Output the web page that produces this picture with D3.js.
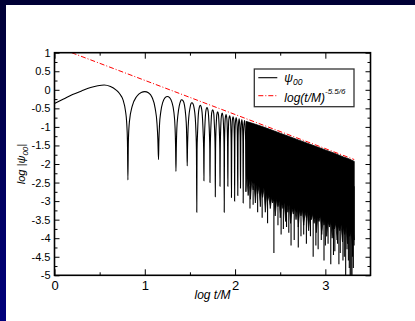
<!DOCTYPE html>
<html>
<head>
<meta charset="utf-8">
<script src="https://cdn.jsdelivr.net/npm/d3@7"></script>
<style>
  html, body { margin: 0; padding: 0; background: #fff; }
  svg text { font-family: "Liberation Sans", Arial, sans-serif; fill: #000; }
</style>
</head>
<body>
<div id="chart"></div>
<script>
// axis ticks
const xMajor = [0, 1, 2, 3];
const xMinor = [0.5, 1.5, 2.5];
const yMajor = [1, 0.5, 0, -0.5, -1, -1.5, -2, -2.5, -3, -3.5, -4, -4.5, -5];
const yMinor = [0.75, 0.25, -0.25, -0.75, -1.25, -1.75, -2.25, -2.75, -3.25, -3.75, -4.25, -4.75];

// psi_00, resolved arches (log t/M, log|psi|)
const wave = [
  [0,-0.37],[0.1,-0.25],[0.2,-0.13],[0.3,-0.03],[0.4,0.06],[0.48,0.11],[0.55,0.13],[0.62,0.09],[0.68,0.0],[0.72,-0.1],[0.76,-0.28],[0.785,-0.55],[0.8,-0.9],[0.808,-1.4],[0.813,-2.43],
  [0.818,-1.4],[0.83,-0.85],[0.86,-0.45],[0.91,-0.18],[0.96,-0.07],[1.0,-0.05],[1.04,-0.08],[1.08,-0.2],[1.115,-0.5],[1.135,-0.9],[1.145,-1.35],[1.152,-1.88],
  [1.156,-1.4],[1.163,-0.95],[1.178,-0.58],[1.2,-0.33],[1.225,-0.21],[1.25,-0.18],[1.275,-0.21],[1.3,-0.33],[1.322,-0.6],[1.335,-1.0],[1.341,-1.5],[1.345,-2.2],
  [1.349,-1.6],[1.355,-1.05],[1.367,-0.68],[1.383,-0.42],[1.397,-0.3],[1.407,-0.27],[1.425,-0.3],[1.44,-0.42],[1.453,-0.68],[1.462,-1.05],[1.467,-1.6],[1.47,-2.05],
  [1.473,-1.6],[1.478,-1.15],[1.487,-0.75],[1.5,-0.5],[1.51,-0.38],[1.522,-0.35],[1.535,-0.38],[1.547,-0.5],[1.559,-0.75],[1.567,-1.15],[1.572,-1.6],[1.576,-3.3],
  [1.579,-1.6],[1.584,-1.2],[1.59,-0.8],[1.6,-0.52],[1.615,-0.42],[1.63,-0.52],[1.64,-0.8],[1.647,-1.2],[1.652,-1.6],[1.655,-2.45],
  [1.658,-1.6],[1.662,-1.2],[1.668,-0.85],[1.676,-0.58],[1.689,-0.48],[1.702,-0.58],[1.71,-0.85],[1.716,-1.2],[1.72,-1.6],[1.722,-2.5],
  [1.725,-1.6],[1.729,-1.2],[1.734,-0.9],[1.741,-0.62],[1.752,-0.54],[1.763,-0.62],[1.77,-0.9],[1.775,-1.2],[1.779,-1.6],[1.781,-2.88],
  [1.784,-1.6],[1.787,-1.2],[1.792,-0.9],[1.798,-0.67],[1.807,-0.59],[1.816,-0.67],[1.822,-0.9],[1.827,-1.2],[1.831,-1.6],[1.833,-2.6],
  [1.836,-1.6],[1.839,-1.2],[1.843,-0.9],[1.849,-0.7],[1.857,-0.63],[1.865,-0.7],[1.871,-0.9],[1.875,-1.2],[1.878,-1.6],[1.88,-3.3],
  [1.883,-1.5],[1.886,-1.1],[1.891,-0.78],[1.9,-0.67],[1.909,-0.78],[1.914,-1.1],[1.917,-1.5],[1.92,-2.6],
  [1.923,-1.5],[1.926,-1.1],[1.931,-0.8],[1.94,-0.7],[1.949,-0.8],[1.954,-1.1],[1.957,-1.5],[1.96,-2.9],
  [1.963,-1.5],[1.966,-1.1],[1.97,-0.82],[1.978,-0.73],[1.986,-0.82],[1.99,-1.1],[1.993,-1.5],[1.995,-3.0],
  [1.998,-1.4],[2.003,-0.9],[2.012,-0.75],[2.021,-0.9],[2.026,-1.4],[2.03,-2.85],
  [2.033,-1.4],[2.038,-0.92],[2.045,-0.78],[2.052,-0.92],[2.057,-1.4],[2.06,-2.65],
  [2.063,-1.4],[2.068,-0.95],[2.075,-0.8],[2.082,-0.95],[2.087,-1.4],[2.09,-3.05],
  [2.093,-1.4],[2.098,-0.97],[2.105,-0.83],[2.112,-0.97],[2.117,-1.4],[2.12,-2.75]
];

// dense part: upper envelope and ragged lower edge of the black band
const bandTop = [[2.12,-0.85],[2.2,-0.91],[2.3,-0.99],[2.4,-1.08],[2.5,-1.17],[2.6,-1.26],[2.7,-1.35],[2.8,-1.44],[2.9,-1.53],[3.0,-1.62],[3.1,-1.71],[3.2,-1.81],[3.26,-1.86],[3.32,-1.93]];
const bandLow = [
  [2.12,-2.75],[2.13,-2.3],[2.145,-2.85],[2.16,-2.4],[2.17,-2.95],[2.185,-2.45],[2.2,-2.7],[2.21,-2.5],[2.225,-3.05],[2.24,-2.55],
  [2.25,-2.8],[2.265,-2.6],[2.28,-3.15],[2.29,-2.7],[2.305,-2.9],[2.32,-2.65],[2.335,-3.3],[2.35,-2.8],[2.36,-3.0],[2.375,-2.85],
  [2.39,-3.2],[2.405,-2.9],[2.415,-3.05],[2.43,-2.95],[2.445,-3.4],[2.46,-2.95],[2.475,-3.15],[2.49,-3.0],[2.5,-3.45],[2.515,-3.05],
  [2.53,-3.2],[2.545,-3.05],[2.56,-3.55],[2.575,-3.1],[2.585,-3.3],[2.6,-3.1],[2.615,-3.6],[2.63,-3.2],[2.645,-3.35],[2.66,-3.15],
  [2.675,-3.5],[2.69,-3.2],[2.7,-3.7],[2.715,-3.25],[2.73,-3.4],[2.745,-3.25],[2.76,-3.65],[2.775,-3.3],[2.79,-3.45],[2.8,-3.3],
  [2.815,-3.8],[2.83,-3.35],[2.845,-3.5],[2.86,-3.35],[2.875,-3.6],[2.89,-3.4],[2.9,-3.85],[2.915,-3.45],[2.93,-3.55],[2.945,-3.4],
  [2.96,-3.9],[2.975,-3.5],[2.985,-3.65],[3.0,-3.5],[3.015,-3.95],[3.03,-3.55],[3.045,-3.7],[3.06,-3.55],[3.075,-4.0],[3.09,-3.6],
  [3.1,-3.75],[3.115,-3.6],[3.13,-4.05],[3.145,-3.65],[3.16,-3.8],[3.175,-3.65],[3.19,-4.1],[3.2,-3.7],[3.215,-3.9],[3.23,-3.7],
  [3.245,-4.15],[3.26,-3.75],[3.27,-3.95],[3.285,-3.8],[3.3,-4.2],[3.31,-3.85],[3.32,-4.05]
];
// deepest minima sticking out below the band
const spikes = [
  [2.165,-3.2],[2.2,-3.1],[2.25,-3.3],[2.3,-3.45],[2.36,-3.6],[2.43,-4.4],[2.475,-3.65],[2.51,-3.9],[2.535,-3.75],[2.57,-3.7],
  [2.595,-3.85],[2.62,-4.2],[2.655,-4.05],[2.7,-4.25],[2.73,-3.95],[2.76,-3.9],[2.79,-4.15],[2.835,-3.95],[2.865,-4.5],[2.895,-4.2],
  [2.92,-4.3],[2.955,-4.05],[2.985,-4.6],[3.0,-4.2],[3.03,-4.15],[3.06,-4.7],[3.09,-4.45],[3.105,-4.35],[3.135,-4.15],[3.15,-4.7],
  [3.165,-4.4],[3.195,-4.6],[3.21,-4.5],[3.225,-5.0],[3.24,-4.3],[3.255,-4.6],[3.265,-4.8],[3.275,-5.0],[3.285,-5.0],[3.295,-5.0],
  [3.3,-4.5],[3.31,-4.8],[3.318,-4.2]
];
// power law log(t/M)^-5.5/6
const fitLine = [[0.19, 1.0], [3.32, -1.88]];

const W = 415, H = 321;
const margin = { top: 52.7, right: 44.5, bottom: 45.7, left: 54.5 };
const width = W - margin.left - margin.right;
const height = H - margin.top - margin.bottom;

const svg = d3.select('#chart').append('svg')
  .attr('width', W)
  .attr('height', H);

// slide background
const defs = svg.append('defs');
const grad = defs.append('linearGradient')
  .attr('id', 'bg').attr('x1', 0).attr('y1', 0).attr('x2', 0).attr('y2', 1);
grad.append('stop').attr('offset', 0).attr('stop-color', '#000035');
grad.append('stop').attr('offset', 1).attr('stop-color', '#00007c');
svg.append('rect').attr('width', W).attr('height', H).attr('fill', 'url(#bg)');
svg.append('rect').attr('x', 6).attr('y', 5).attr('width', W - 6).attr('height', H - 5).attr('fill', '#fff');

defs.append('clipPath').attr('id', 'clip')
  .append('rect').attr('width', width).attr('height', height);

const x = d3.scaleLinear().domain([0, 3.5]).range([0, width]);
const y = d3.scaleLinear().domain([-5, 1]).range([height, 0]);

const chart = svg.append('g')
  .attr('transform', `translate(${margin.left},${margin.top})`);

const plot = chart.append('g').attr('clip-path', 'url(#clip)');

// black band for the unresolved oscillations
const band = bandTop.concat(bandLow.slice().reverse());
plot.append('path')
  .datum(band)
  .attr('d', d3.line().x(d => x(d[0])).y(d => y(d[1])))
  .attr('fill', '#000')
  .attr('stroke', '#000')
  .attr('stroke-width', 0.8);

plot.selectAll('line.spike')
  .data(spikes)
  .enter().append('line')
  .attr('class', 'spike')
  .attr('x1', d => x(d[0])).attr('x2', d => x(d[0]))
  .attr('y1', y(-2.6)).attr('y2', d => y(d[1]))
  .attr('stroke', '#000')
  .attr('stroke-width', 1.1);

plot.append('path')
  .datum(wave)
  .attr('d', d3.line().x(d => x(d[0])).y(d => y(d[1])).curve(d3.curveMonotoneX))
  .attr('fill', 'none')
  .attr('stroke', '#000')
  .attr('stroke-width', 1.1);

plot.append('path')
  .datum(fitLine)
  .attr('d', d3.line().x(d => x(d[0])).y(d => y(d[1])))
  .attr('fill', 'none')
  .attr('stroke', '#ff0000')
  .attr('stroke-width', 1)
  .attr('stroke-dasharray', '5,2,1,2');

// axes, ticks pointing inward on all four sides
function styleAxis(g) {
  g.select('.domain').remove();
  g.selectAll('.tick line').attr('stroke', '#000').attr('stroke-width', 1);
}
chart.append('g')
  .attr('transform', `translate(0,${height})`)
  .call(d3.axisBottom(x).tickValues(xMajor).tickSizeInner(-6).tickSizeOuter(0).tickPadding(5).tickFormat(d => String(d)))
  .call(styleAxis)
  .selectAll('text').attr('font-size', 13).attr('dy', '0.72em');
chart.append('g')
  .attr('transform', `translate(0,${height})`)
  .call(d3.axisBottom(x).tickValues(xMinor).tickSizeInner(-3).tickSizeOuter(0).tickFormat(''))
  .call(styleAxis);
chart.append('g')
  .call(d3.axisTop(x).tickValues(xMajor).tickSizeInner(-6).tickSizeOuter(0).tickFormat(''))
  .call(styleAxis);
chart.append('g')
  .call(d3.axisTop(x).tickValues(xMinor).tickSizeInner(-3).tickSizeOuter(0).tickFormat(''))
  .call(styleAxis);

chart.append('g')
  .call(d3.axisLeft(y).tickValues(yMajor).tickSizeInner(-5).tickSizeOuter(0).tickPadding(4).tickFormat(d => String(d)))
  .call(styleAxis)
  .selectAll('text').attr('font-size', 11);
chart.append('g')
  .call(d3.axisLeft(y).tickValues(yMinor).tickSizeInner(-3).tickSizeOuter(0).tickFormat(''))
  .call(styleAxis);
chart.append('g')
  .attr('transform', `translate(${width},0)`)
  .call(d3.axisRight(y).tickValues(yMajor).tickSizeInner(-5).tickSizeOuter(0).tickFormat(''))
  .call(styleAxis);
chart.append('g')
  .attr('transform', `translate(${width},0)`)
  .call(d3.axisRight(y).tickValues(yMinor).tickSizeInner(-3).tickSizeOuter(0).tickFormat(''))
  .call(styleAxis);

// frame
chart.append('rect')
  .attr('width', width).attr('height', height)
  .attr('fill', 'none').attr('stroke', '#000').attr('stroke-width', 1.6);

// axis titles
chart.append('text')
  .attr('x', x(1.75))
  .attr('y', height + 24)
  .attr('text-anchor', 'middle')
  .attr('font-size', 12)
  .attr('font-style', 'italic')
  .text('log t/M');

const yt = chart.append('text')
  .attr('transform', `translate(-30,${height / 2}) rotate(-90)`)
  .attr('text-anchor', 'middle')
  .attr('font-size', 11)
  .attr('font-style', 'italic');
yt.append('tspan').text('log |ψ');
yt.append('tspan').attr('font-size', 8).attr('dy', 3).text('00');
yt.append('tspan').attr('dy', -3).text('|');

// legend
const legend = chart.append('g')
  .attr('transform', `translate(${254.3 - margin.left},${69 - margin.top})`);
legend.append('rect')
  .attr('width', 99.7).attr('height', 37.7)
  .attr('fill', '#fff').attr('stroke', '#333').attr('stroke-width', 1.3);
legend.append('line')
  .attr('x1', 4).attr('x2', 23).attr('y1', 8.7).attr('y2', 8.7)
  .attr('stroke', '#000').attr('stroke-width', 1.1);
legend.append('line')
  .attr('x1', 4).attr('x2', 23).attr('y1', 26.7).attr('y2', 26.7)
  .attr('stroke', '#ff0000').attr('stroke-width', 1).attr('stroke-dasharray', '5,2,1,2');
const l1 = legend.append('text')
  .attr('x', 30).attr('y', 13)
  .attr('font-size', 12).attr('font-style', 'italic');
l1.append('tspan').text('ψ');
l1.append('tspan').attr('font-size', 8.5).attr('dy', 3).text('00');
const l2 = legend.append('text')
  .attr('x', 30).attr('y', 32.5)
  .attr('font-size', 12).attr('font-style', 'italic');
l2.append('tspan').text('log(t/M)');
l2.append('tspan').attr('font-size', 8).attr('dy', -8).text('-5.5/6');
</script>
</body>
</html>
